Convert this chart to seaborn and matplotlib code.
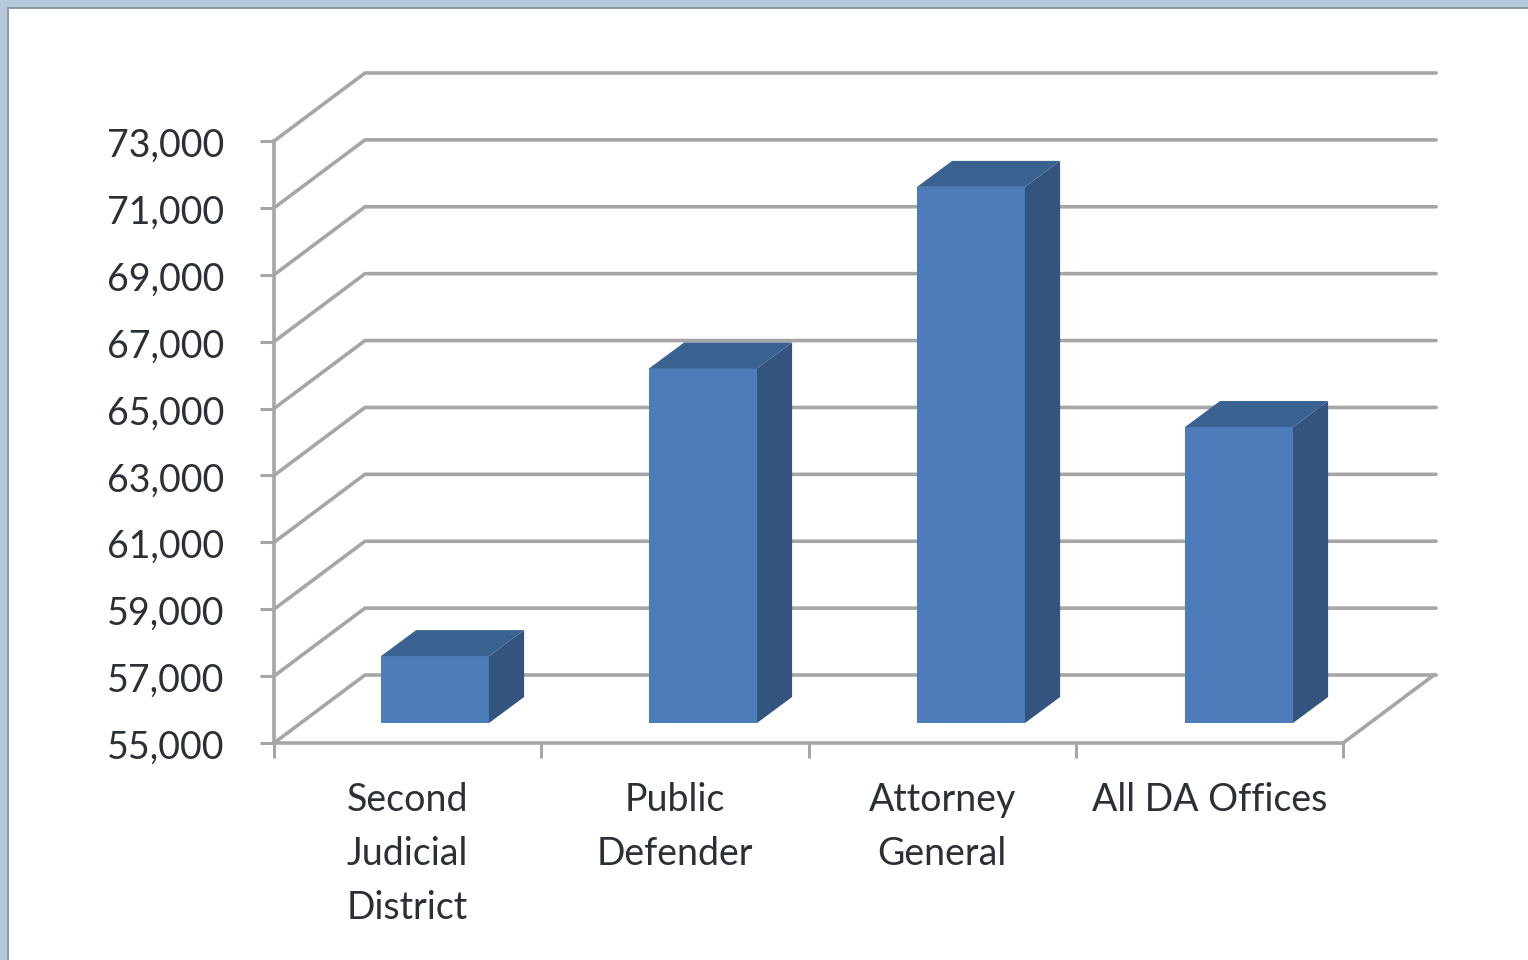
import matplotlib
matplotlib.use('Agg')
import matplotlib.pyplot as plt
import seaborn as sns
import pandas as pd
from matplotlib.patches import Polygon, Rectangle
from matplotlib.transforms import ScaledTranslation

categories = ['Second\nJudicial\nDistrict', 'Public\nDefender', 'Attorney\nGeneral', 'All DA Offices']
salaries = [57000, 65600, 71030, 63850]
yticks = [55000, 57000, 59000, 61000, 63000, 65000, 67000, 69000, 71000, 73000]

W, H = 1528, 960
LEFT, RIGHT, BOTTOM, TOP = 274, 1343, 743, 141  # front plane in pixels
GRID = '#a6a6a6'
TEXT = '#2b2f36'

sns.set_theme(style='white')
plt.rcParams['font.family'] = ['Lato', 'DejaVu Sans']

fig = plt.figure(figsize=(W / 100, H / 100), dpi=100, facecolor='white')


def make_axes(dx, dy, extra=0):
    # axes in pixel position, y measured from the top of the image
    return fig.add_axes([(LEFT + dx) / W, (H - BOTTOM + dy) / H, (RIGHT - LEFT + extra) / W, (BOTTOM - TOP) / H])


ax = make_axes(0, 0)
ax.set_xlim(-0.5, 3.5)
ax.set_ylim(yticks[0], yticks[-1])
ax.patch.set_alpha(0)
for s in ['top', 'right']:
    ax.spines[s].set_visible(False)
for s in ['left', 'bottom']:
    ax.spines[s].set_color(GRID)
    ax.spines[s].set_linewidth(2.6)

# size of one pixel in data units
px_x = 4 / (RIGHT - LEFT)
px_y = (yticks[-1] - yticks[0]) / (BOTTOM - TOP)

# back wall, side wall and floor
back_x, back_y = 91 * px_x, 68 * px_y
for v in yticks:
    ax.plot([-0.5, -0.5 + back_x, 3.5 + back_x + 0.008], [v, v + back_y, v + back_y], color=GRID, lw=2.6,
            clip_on=False, solid_joinstyle='miter')
ax.plot([3.5, 3.5 + back_x], [yticks[0], yticks[0] + back_y], color=GRID, lw=2.6, clip_on=False)

ax.set_yticks(yticks)
ax.set_yticklabels([f'{v:,}' for v in yticks], fontsize=27, color=TEXT)
ax.tick_params(axis='y', length=10, width=2.2, color=GRID, pad=26, left=True)
ax.set_xticks([-0.5, 0.5, 1.5, 2.5, 3.5])
ax.set_xticklabels([])
ax.set_xticks(range(4), categories, minor=True, fontsize=27, color=TEXT, linespacing=1.62)
ax.tick_params(axis='x', which='minor', length=0, pad=28)
ax.tick_params(axis='x', which='major', length=11, width=2.2, color=GRID, bottom=True)

shift = ScaledTranslation(0, -1 / 72, fig.dpi_scale_trans)
for lbl in ax.get_yticklabels():
    lbl.set_transform(lbl.get_transform() + shift)

# bars sit part way into the floor
bar_ax = make_axes(27, 20, extra=3)
df = pd.DataFrame({'category': categories, 'salary': salaries})
sns.barplot(data=df, x='category', y='salary', color='#4c7dba', saturation=1, width=0.403, linewidth=0, ax=bar_ax)
bar_ax.set_xlim(-0.5, 3.5)
bar_ax.set_ylim(yticks[0], yticks[-1])
bar_ax.axis('off')

depth_x, depth_y = 35 * px_x, 26 * px_y
for bar in list(bar_ax.patches):
    x0, x1 = bar.get_x(), bar.get_x() + bar.get_width()
    y0, y1 = yticks[0], bar.get_height()
    bar_ax.add_patch(Polygon([(x0, y1), (x1, y1), (x1 + depth_x, y1 + depth_y), (x0 + depth_x, y1 + depth_y)],
                             closed=True, fc='#3a6291', ec='none', clip_on=False))
    bar_ax.add_patch(Polygon([(x1, y0), (x1 + depth_x, y0 + depth_y), (x1 + depth_x, y1 + depth_y), (x1, y1)],
                             closed=True, fc='#32547f', ec='none', clip_on=False))

# window frame of the screenshot
fig.patches.append(Rectangle((0, 1 - 7 / H), 1, 7 / H, transform=fig.transFigure, fc='#b6cadb', ec='none'))
fig.patches.append(Rectangle((8 / W, 1 - 9 / H), 1, 2 / H, transform=fig.transFigure, fc='#8d99a3', ec='none'))
fig.patches.append(Rectangle((0, 0), 7 / W, 1, transform=fig.transFigure, fc='#b6cadb', ec='none'))
fig.patches.append(Rectangle((7 / W, 0), 2 / W, 1 - 7 / H, transform=fig.transFigure, fc='#8d99a3', ec='none'))

fig.savefig('out.png', dpi=100)
